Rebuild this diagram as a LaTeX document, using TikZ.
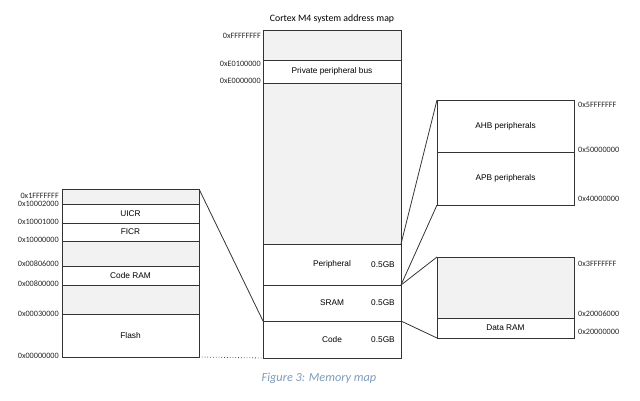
\documentclass[tikz,border=0pt]{standalone}
\usepackage{fontspec}
\setmainfont{Carlito}
\newfontfamily\arialf{Liberation Sans}
\begin{document}
\begin{tikzpicture}[x=1pt,y=-1pt,
  linec/.style={},
  mbox/.style={draw=black!80, line width=0.8pt, inner sep=0pt, outer sep=0pt, anchor=north west, font=\arialf\fontsize{8.3}{10}\selectfont},
  gbox/.style={mbox, fill=black!5},
  addr/.style={inner sep=0pt, font=\fontsize{8.2}{10}\selectfont, text=black!85},
  addrl/.style={addr, anchor=base east},
  addrr/.style={addr, anchor=base west},
  conn/.style={draw=black!80, line width=0.8pt},
  gb/.style={inner sep=0pt, font=\arialf\fontsize{8.3}{10}\selectfont}]
\useasboundingbox (0,0) rectangle (640,400);
% title
\node[font=\fontsize{9.8}{12}\selectfont] (title) at (332,19) {Cortex M4 system address map};
% main column
\node[gbox, minimum width=138pt, minimum height=30pt] (mtop) at (263,30) {};
\node[mbox, minimum width=138pt, minimum height=23pt] (ppb) at (263,60) {Private peripheral bus};
\node[gbox, minimum width=138pt, minimum height=161pt] (mgap) at (263,83) {};
\node[mbox, minimum width=138pt, minimum height=41pt] (periph) at (263,244) {Peripheral};
\node[mbox, minimum width=138pt, minimum height=36pt] (sram) at (263,285) {SRAM};
\node[mbox, minimum width=138pt, minimum height=37pt] (code) at (263,321) {Code};
\node[gb] (gbp) at (383,265) {0.5GB};
\node[gb] (gbs) at (383,303) {0.5GB};
\node[gb] (gbc) at (383,340) {0.5GB};
\node[addrl] (a1) at (261,38) {0xFFFFFFFF};
\node[addrl] (a2) at (261,66) {0xE0100000};
\node[addrl] (a3) at (261,83) {0xE0000000};
% left column
\node[gbox, minimum width=137pt, minimum height=15pt] (l1) at (62,189) {};
\node[mbox, minimum width=137pt, minimum height=19pt] (uicr) at (62,204) {UICR};
\node[mbox, minimum width=137pt, minimum height=18pt] (ficr) at (62,223) {FICR};
\node[gbox, minimum width=137pt, minimum height=25pt] (l2) at (62,241) {};
\node[mbox, minimum width=137pt, minimum height=19pt] (cram) at (62,266) {Code RAM};
\node[gbox, minimum width=137pt, minimum height=29pt] (l3) at (62,285) {};
\node[mbox, minimum width=137pt, minimum height=43pt] (flash) at (62,314) {Flash};
\node[addrl] (b1) at (59,198) {0x1FFFFFFF};
\node[addrl] (b2) at (59,206) {0x10002000};
\node[addrl] (b3) at (59,224) {0x10001000};
\node[addrl] (b4) at (59,242) {0x10000000};
\node[addrl] (b5) at (59,266) {0x00806000};
\node[addrl] (b6) at (59,286) {0x00800000};
\node[addrl] (b7) at (59,316) {0x00030000};
\node[addrl] (b8) at (59,358) {0x00000000};
% right top
\node[mbox, minimum width=137pt, minimum height=52pt] (ahb) at (437,100) {AHB peripherals};
\node[mbox, minimum width=137pt, minimum height=53pt] (apb) at (437,152) {APB peripherals};
\node[addrr] (c1) at (578,107) {0x5FFFFFFF};
\node[addrr] (c2) at (578,152) {0x50000000};
\node[addrr] (c3) at (578,201) {0x40000000};
% right bottom
\node[gbox, minimum width=137pt, minimum height=61pt] (rgap) at (437,257) {};
\node[mbox, minimum width=137pt, minimum height=20pt] (dram) at (437,318) {Data RAM};
\node[addrr] (d1) at (578,266) {0x3FFFFFFF};
\node[addrr] (d2) at (578,316) {0x20006000};
\node[addrr] (d3) at (578,334) {0x20000000};
% connectors
\draw[conn] (l1.north east) -- (code.north west);
\draw[draw=black!70, line width=0.8pt, dotted] (flash.south east) -- (code.south west);
\draw[conn] (periph.north east) -- (ahb.north west);
\draw[conn] (sram.north east) -- (apb.south west);
\draw[conn] (sram.north east) -- (rgap.north west);
\draw[conn] (code.north east) -- (dram.south west);
% caption
\node[font=\itshape\fontsize{12.3}{14}\selectfont, text={rgb,255:red,125;green,155;blue,185}] (cap) at (319,378) {Figure 3: Memory map};
\end{tikzpicture}
\end{document}
